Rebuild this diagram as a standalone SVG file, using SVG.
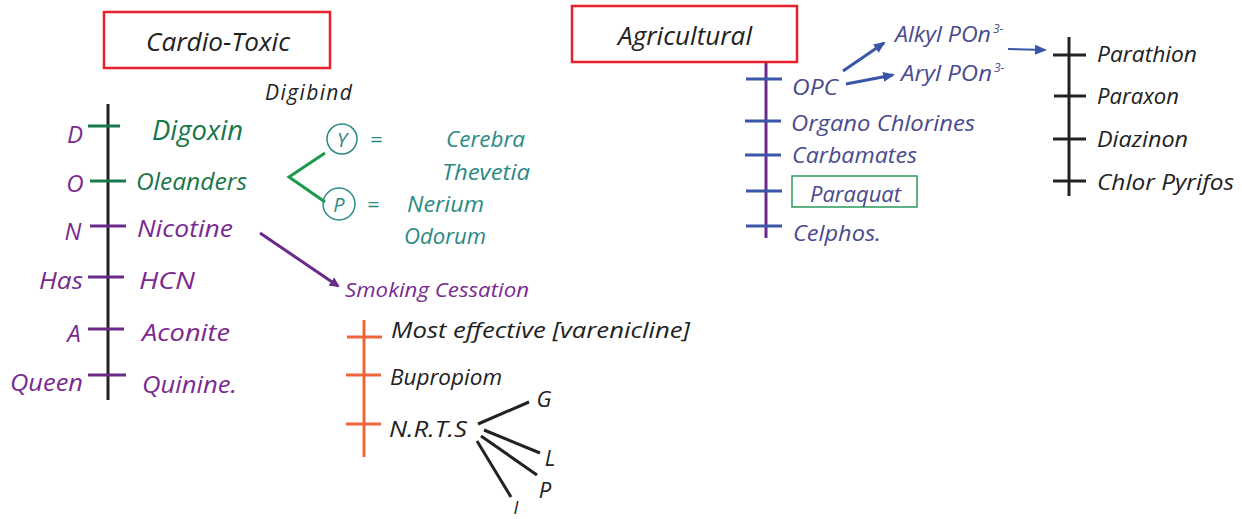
<svg xmlns="http://www.w3.org/2000/svg" width="1242" height="519" viewBox="0 0 1242 519">
<defs>
<style>
text{font-family:"Open Sans","DejaVu Sans",sans-serif;font-style:italic;font-weight:400}
.k{fill:#222}
.pu{fill:#7a2a90}
.gr{fill:#17764a}
.te{fill:#2a8a84}
.bl{fill:#4a4a8c}
.ln{fill:none;stroke-width:3}
</style>
<marker id="ap" markerWidth="10" markerHeight="10" refX="8" refY="5" orient="auto" markerUnits="userSpaceOnUse" viewBox="0 0 10 10"><path d="M0,0 L10,5 L0,10 z" fill="#6a2a8a"/></marker>
<marker id="ab" markerWidth="12" markerHeight="12" refX="10" refY="6" orient="auto" markerUnits="userSpaceOnUse" viewBox="0 0 12 12"><path d="M0,1 L12,6 L0,11 z" fill="#3a56a8"/></marker>
</defs>
<rect width="1242" height="519" fill="#fff"/>

<g id="connectors">
<line class="ln" x1="108" y1="104" x2="108" y2="400" stroke="#222"/>
<line class="ln" x1="88" y1="126" x2="120" y2="126" stroke="#17764a"/>
<line class="ln" x1="90" y1="181" x2="126" y2="181" stroke="#17764a"/>
<line class="ln" x1="90" y1="226" x2="126" y2="226" stroke="#6a2a8a"/>
<line class="ln" x1="88" y1="277" x2="124" y2="277" stroke="#6a2a8a"/>
<line class="ln" x1="88" y1="329" x2="124" y2="329" stroke="#6a2a8a"/>
<line class="ln" x1="88" y1="375" x2="126" y2="375" stroke="#6a2a8a"/>
<path class="ln" d="M325,153 L289,177 L325,202" stroke="#1a9a4a"/>
<line class="ln" x1="260" y1="233" x2="338" y2="286" stroke="#6a2a8a" marker-end="url(#ap)"/>
<line class="ln" x1="364" y1="320" x2="364" y2="457" stroke="#f0643c"/>
<line class="ln" x1="347" y1="337" x2="382" y2="337" stroke="#f0643c"/>
<line class="ln" x1="346" y1="375" x2="381" y2="375" stroke="#f0643c"/>
<line class="ln" x1="346" y1="424" x2="381" y2="424" stroke="#f0643c"/>
<g stroke="#222" class="ln">
<line x1="478" y1="424" x2="529" y2="402"/>
<line x1="484" y1="430" x2="540" y2="453"/>
<line x1="481" y1="436" x2="537" y2="475"/>
<line x1="477" y1="441" x2="511" y2="497"/>
</g>
<line class="ln" x1="766" y1="62" x2="766" y2="238" stroke="#6a2a8a"/>
<g stroke="#3a56a8" class="ln">
<line x1="746" y1="79" x2="782" y2="79"/>
<line x1="745" y1="121" x2="781" y2="121"/>
<line x1="745" y1="155" x2="781" y2="155"/>
<line x1="746" y1="191" x2="782" y2="191"/>
<line x1="746" y1="226" x2="782" y2="226"/>
</g>
<line x1="843" y1="71" x2="884" y2="43" stroke="#3a56a8" stroke-width="3" marker-end="url(#ab)"/>
<line x1="846" y1="84" x2="893" y2="75" stroke="#3a56a8" stroke-width="3" marker-end="url(#ab)"/>
<line x1="1008" y1="49" x2="1045" y2="50" stroke="#3a56a8" stroke-width="2" marker-end="url(#ab)"/>
<line class="ln" x1="1069" y1="37" x2="1069" y2="196" stroke="#222"/>
<g stroke="#222" class="ln">
<line x1="1053" y1="55" x2="1086" y2="55"/>
<line x1="1054" y1="96" x2="1086" y2="96"/>
<line x1="1053" y1="139" x2="1086" y2="139"/>
<line x1="1053" y1="181" x2="1086" y2="181"/>
</g>
</g>

<g id="cardio-title">
<rect x="104" y="12" width="226" height="56" fill="none" stroke="#e8202a" stroke-width="2.5"/>
<text x="146" y="51" class="k" font-size="25" textLength="144" lengthAdjust="spacingAndGlyphs">Cardio-Toxic</text>
</g>

<g id="left-letters">
<text x="75" y="143" class="pu" font-size="24" text-anchor="middle">D</text>
<text x="75" y="192" class="pu" font-size="24" text-anchor="middle">O</text>
<text x="73" y="240" class="pu" font-size="24" text-anchor="middle">N</text>
<text x="39" y="289" class="pu" font-size="24" textLength="44" lengthAdjust="spacingAndGlyphs">Has</text>
<text x="74" y="342" class="pu" font-size="24" text-anchor="middle">A</text>
<text x="10" y="391" class="pu" font-size="24" textLength="73" lengthAdjust="spacingAndGlyphs">Queen</text>
</g>

<g id="cardio-items">
<text x="152" y="140" class="gr" font-size="27" textLength="91" lengthAdjust="spacingAndGlyphs">Digoxin</text>
<text x="136" y="190" class="gr" font-size="24" textLength="111" lengthAdjust="spacingAndGlyphs">Oleanders</text>
<text x="137" y="237" class="pu" font-size="24" textLength="96" lengthAdjust="spacingAndGlyphs">Nicotine</text>
<text x="139" y="289" class="pu" font-size="24" textLength="56" lengthAdjust="spacingAndGlyphs">HCN</text>
<text x="142" y="341" class="pu" font-size="24" textLength="88" lengthAdjust="spacingAndGlyphs">Aconite</text>
<text x="142" y="393" class="pu" font-size="24" textLength="95" lengthAdjust="spacingAndGlyphs">Quinine.</text>
</g>

<g id="oleander-types">
<text x="265" y="100" class="k" font-size="21" textLength="87">Digibind</text>
<circle cx="342" cy="139" r="15" fill="none" stroke="#2a8a84" stroke-width="1.5"/>
<text x="342" y="147" class="te" font-size="20" text-anchor="middle">Y</text>
<text x="376" y="147" class="te" font-size="22" text-anchor="middle">=</text>
<text x="446" y="147" class="te" font-size="22" textLength="79" lengthAdjust="spacingAndGlyphs">Cerebra</text>
<text x="442" y="180" class="te" font-size="22" textLength="88" lengthAdjust="spacingAndGlyphs">Thevetia</text>
<circle cx="339" cy="204" r="16" fill="none" stroke="#2a8a84" stroke-width="1.5"/>
<text x="339" y="212" class="te" font-size="20" text-anchor="middle">P</text>
<text x="373" y="212" class="te" font-size="22" text-anchor="middle">=</text>
<text x="407" y="212" class="te" font-size="22" textLength="77" lengthAdjust="spacingAndGlyphs">Nerium</text>
<text x="404" y="244" class="te" font-size="22" textLength="82" lengthAdjust="spacingAndGlyphs">Odorum</text>
</g>

<g id="smoking">
<text x="345" y="297" class="pu" font-size="20" textLength="184" lengthAdjust="spacingAndGlyphs">Smoking Cessation</text>
<text x="391" y="338" class="k" font-size="22" textLength="299" lengthAdjust="spacingAndGlyphs">Most effective [varenicline]</text>
<text x="390" y="385" class="k" font-size="22" textLength="112" lengthAdjust="spacingAndGlyphs">Bupropiom</text>
<text x="389" y="437" class="k" font-size="22" textLength="78" lengthAdjust="spacingAndGlyphs">N.R.T.S</text>
<text x="544" y="407" class="k" font-size="22" text-anchor="middle">G</text>
<text x="550" y="466" class="k" font-size="22" text-anchor="middle">L</text>
<text x="545" y="498" class="k" font-size="22" text-anchor="middle">P</text>
<text x="516" y="514" class="k" font-size="18" text-anchor="middle">I</text>
</g>

<g id="agri-title">
<rect x="572" y="6" width="225" height="56" fill="none" stroke="#e8202a" stroke-width="2.5"/>
<text x="618" y="45" class="k" font-size="25" textLength="134" lengthAdjust="spacingAndGlyphs">Agricultural</text>
</g>

<g id="agri-items">
<text x="792" y="95" class="bl" font-size="22" textLength="46" lengthAdjust="spacingAndGlyphs">OPC</text>
<text x="791" y="131" class="bl" font-size="22" textLength="184" lengthAdjust="spacingAndGlyphs">Organo Chlorines</text>
<text x="792" y="163" class="bl" font-size="22" textLength="125" lengthAdjust="spacingAndGlyphs">Carbamates</text>
<rect x="792" y="176" width="125" height="31" fill="none" stroke="#2a9a5a" stroke-width="1.5"/>
<text x="810" y="202" class="bl" font-size="22" textLength="91" lengthAdjust="spacingAndGlyphs">Paraquat</text>
<text x="793" y="241" class="bl" font-size="22" textLength="88" lengthAdjust="spacingAndGlyphs">Celphos.</text>
</g>

<g id="opc-types">
<text x="895" y="42" class="bl" font-size="22" textLength="96" lengthAdjust="spacingAndGlyphs">Alkyl POn</text>
<text x="993" y="33" class="bl" font-size="12">3-</text>
<text x="901" y="81" class="bl" font-size="22" textLength="91" lengthAdjust="spacingAndGlyphs">Aryl POn</text>
<text x="994" y="72" class="bl" font-size="12">3-</text>
</g>

<g id="op-compounds">
<text x="1097" y="62" class="k" font-size="22" textLength="100" lengthAdjust="spacingAndGlyphs">Parathion</text>
<text x="1097" y="104" class="k" font-size="22" textLength="82" lengthAdjust="spacingAndGlyphs">Paraxon</text>
<text x="1097" y="147" class="k" font-size="22" textLength="91" lengthAdjust="spacingAndGlyphs">Diazinon</text>
<text x="1097" y="190" class="k" font-size="22" textLength="137" lengthAdjust="spacingAndGlyphs">Chlor Pyrifos</text>
</g>
</svg>
